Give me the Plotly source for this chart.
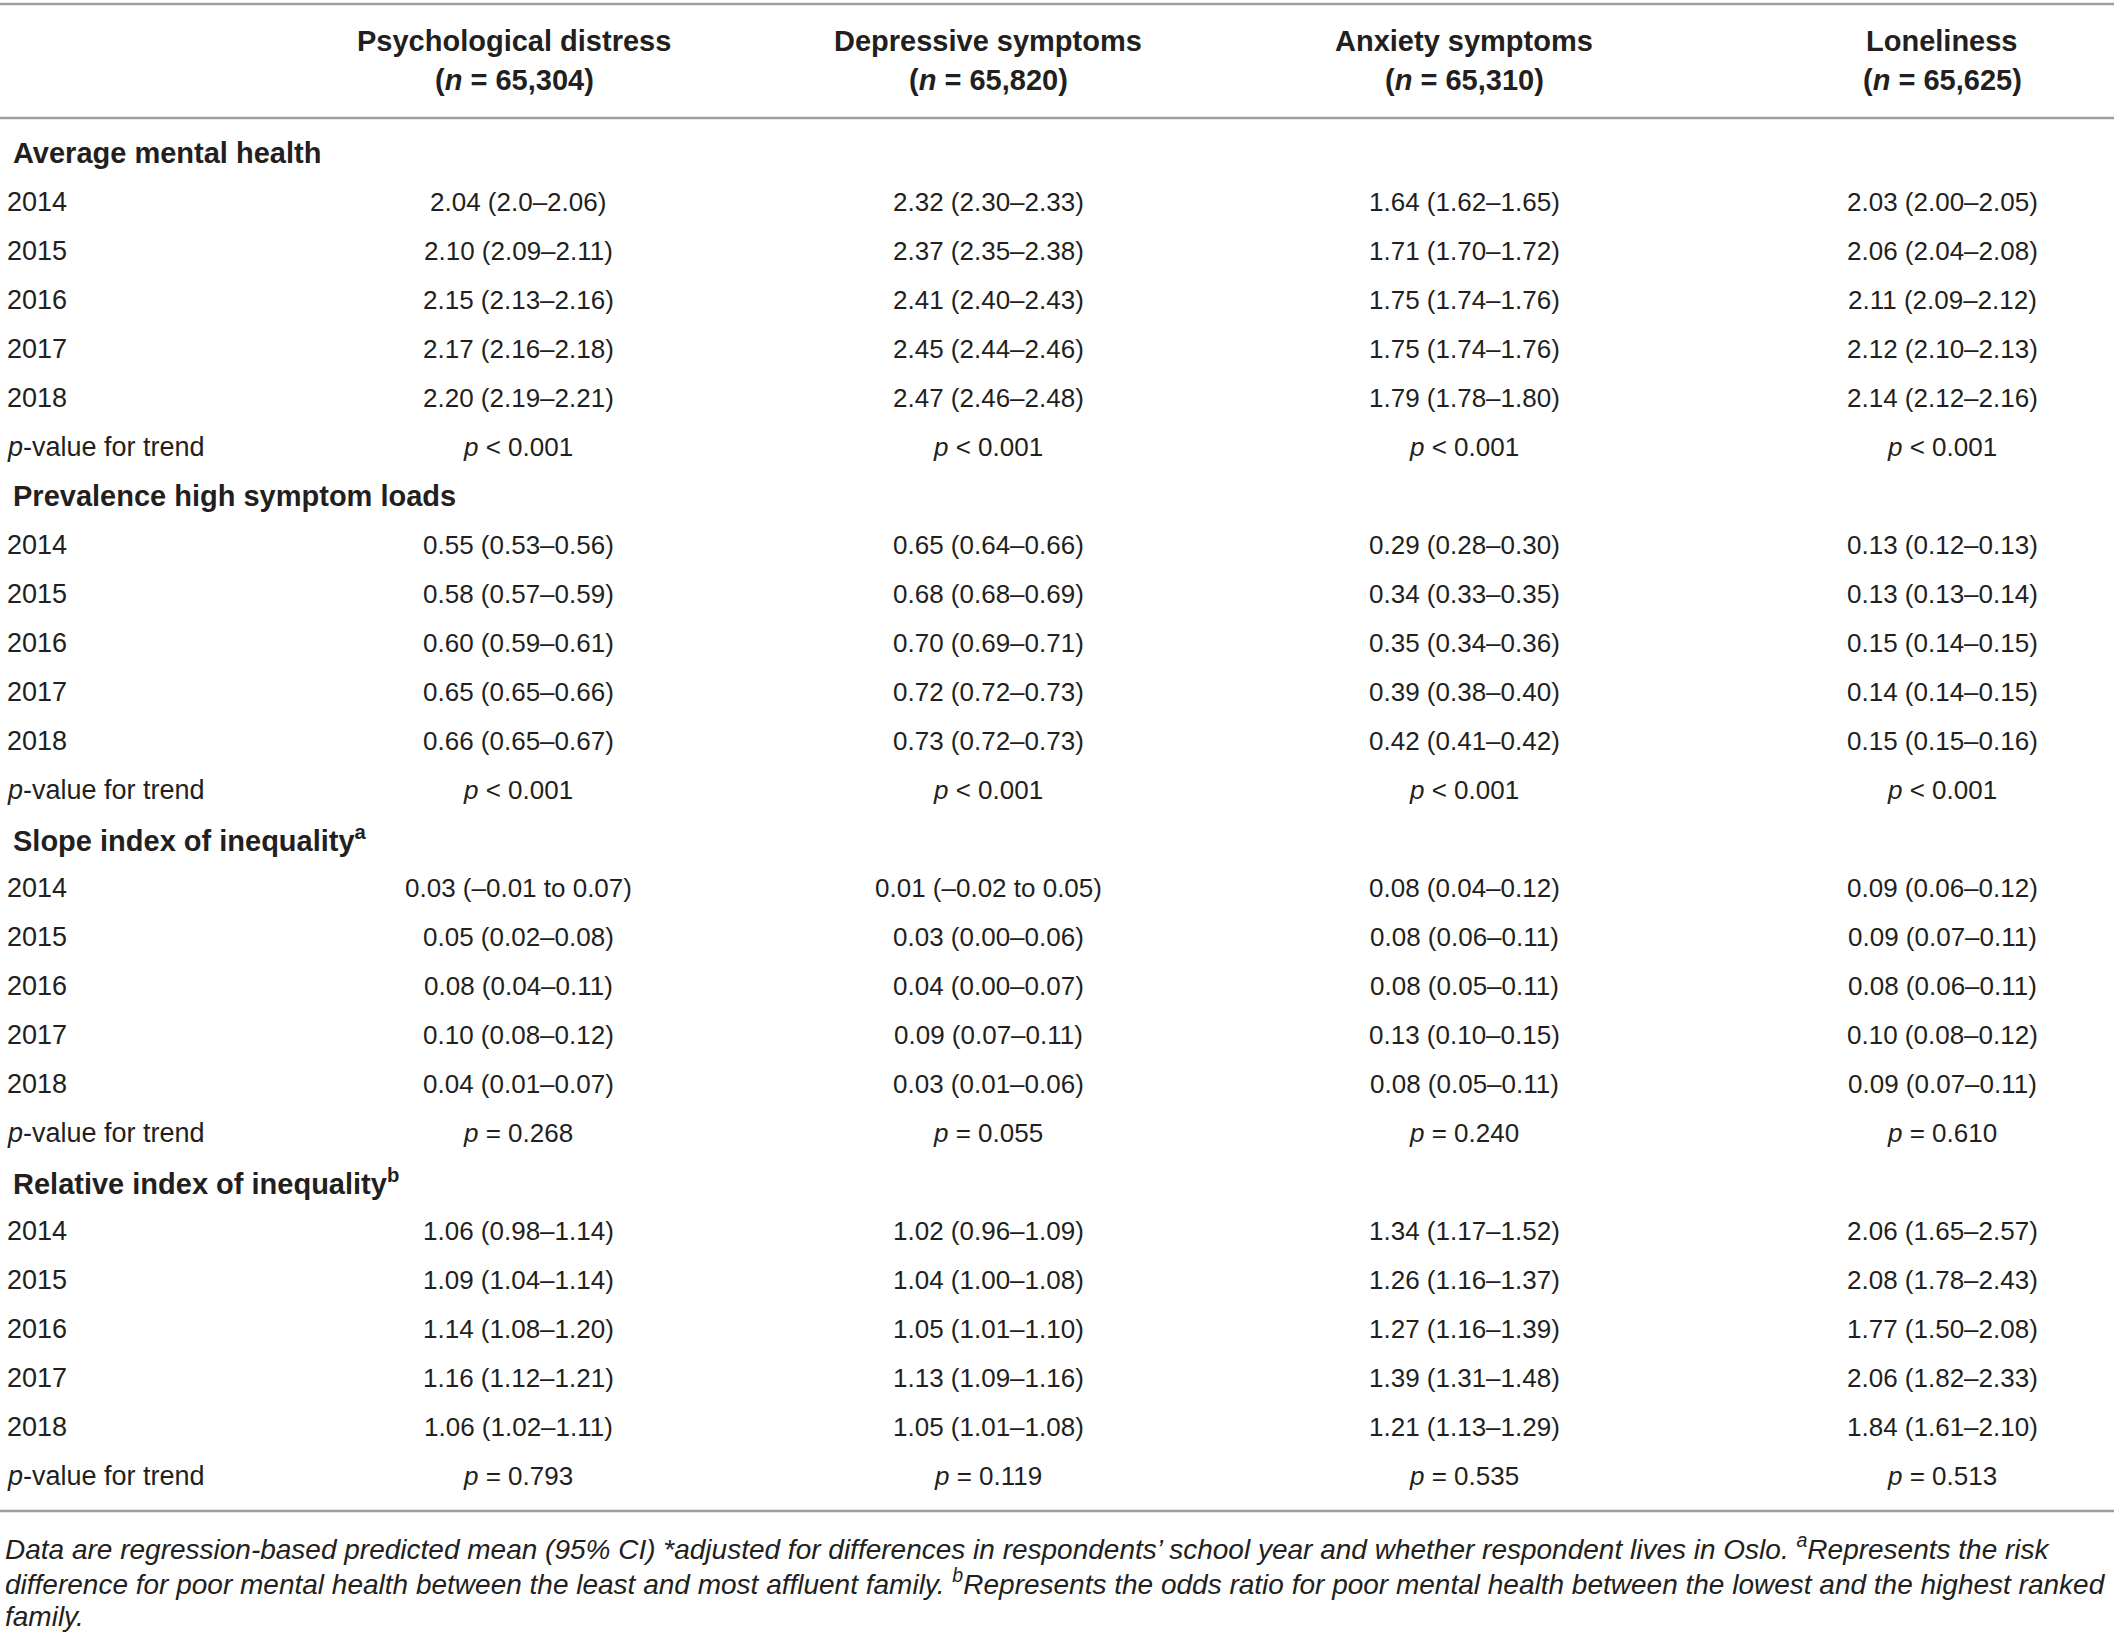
import plotly.graph_objects as go

# column headers
outcomes = ["Psychological distress", "Depressive symptoms", "Anxiety symptoms", "Loneliness"]
sample_n = ["65,304", "65,820", "65,310", "65,625"]

sections = [
    "Average mental health",
    "Prevalence high symptom loads",
    "Slope index of inequality<sup>a</sup>",
    "Relative index of inequality<sup>b</sup>",
]
years = ["2014", "2015", "2016", "2017", "2018"]

# one list per section, one row per year, one entry per outcome
avg_mental_health = [
    ["2.04 (2.0–2.06)", "2.32 (2.30–2.33)", "1.64 (1.62–1.65)", "2.03 (2.00–2.05)"],
    ["2.10 (2.09–2.11)", "2.37 (2.35–2.38)", "1.71 (1.70–1.72)", "2.06 (2.04–2.08)"],
    ["2.15 (2.13–2.16)", "2.41 (2.40–2.43)", "1.75 (1.74–1.76)", "2.11 (2.09–2.12)"],
    ["2.17 (2.16–2.18)", "2.45 (2.44–2.46)", "1.75 (1.74–1.76)", "2.12 (2.10–2.13)"],
    ["2.20 (2.19–2.21)", "2.47 (2.46–2.48)", "1.79 (1.78–1.80)", "2.14 (2.12–2.16)"],
]
prevalence_high = [
    ["0.55 (0.53–0.56)", "0.65 (0.64–0.66)", "0.29 (0.28–0.30)", "0.13 (0.12–0.13)"],
    ["0.58 (0.57–0.59)", "0.68 (0.68–0.69)", "0.34 (0.33–0.35)", "0.13 (0.13–0.14)"],
    ["0.60 (0.59–0.61)", "0.70 (0.69–0.71)", "0.35 (0.34–0.36)", "0.15 (0.14–0.15)"],
    ["0.65 (0.65–0.66)", "0.72 (0.72–0.73)", "0.39 (0.38–0.40)", "0.14 (0.14–0.15)"],
    ["0.66 (0.65–0.67)", "0.73 (0.72–0.73)", "0.42 (0.41–0.42)", "0.15 (0.15–0.16)"],
]
slope_index = [
    ["0.03 (–0.01 to 0.07)", "0.01 (–0.02 to 0.05)", "0.08 (0.04–0.12)", "0.09 (0.06–0.12)"],
    ["0.05 (0.02–0.08)", "0.03 (0.00–0.06)", "0.08 (0.06–0.11)", "0.09 (0.07–0.11)"],
    ["0.08 (0.04–0.11)", "0.04 (0.00–0.07)", "0.08 (0.05–0.11)", "0.08 (0.06–0.11)"],
    ["0.10 (0.08–0.12)", "0.09 (0.07–0.11)", "0.13 (0.10–0.15)", "0.10 (0.08–0.12)"],
    ["0.04 (0.01–0.07)", "0.03 (0.01–0.06)", "0.08 (0.05–0.11)", "0.09 (0.07–0.11)"],
]
relative_index = [
    ["1.06 (0.98–1.14)", "1.02 (0.96–1.09)", "1.34 (1.17–1.52)", "2.06 (1.65–2.57)"],
    ["1.09 (1.04–1.14)", "1.04 (1.00–1.08)", "1.26 (1.16–1.37)", "2.08 (1.78–2.43)"],
    ["1.14 (1.08–1.20)", "1.05 (1.01–1.10)", "1.27 (1.16–1.39)", "1.77 (1.50–2.08)"],
    ["1.16 (1.12–1.21)", "1.13 (1.09–1.16)", "1.39 (1.31–1.48)", "2.06 (1.82–2.33)"],
    ["1.06 (1.02–1.11)", "1.05 (1.01–1.08)", "1.21 (1.13–1.29)", "1.84 (1.61–2.10)"],
]
p_trend = [
    ["< 0.001", "< 0.001", "< 0.001", "< 0.001"],
    ["< 0.001", "< 0.001", "< 0.001", "< 0.001"],
    ["= 0.268", "= 0.055", "= 0.240", "= 0.610"],
    ["= 0.793", "= 0.119", "= 0.535", "= 0.513"],
]
section_values = [avg_mental_health, prevalence_high, slope_index, relative_index]

footnote_lines = [
    "Data are regression-based predicted mean (95% CI) *adjusted for differences in respondents’ school year and whether respondent lives in Oslo. <sup>a</sup>Represents the risk",
    "difference for poor mental health between the least and most affluent family. <sup>b</sup>Represents the odds ratio for poor mental health between the lowest and the highest ranked",
    "family.",
]

# layout (axis units = page pixels)
W, H = 2120, 1638
col_x = [518, 988, 1464, 1942]
label_x = 5
row0, row_step = 153, 49.0
FONT = "Liberation Sans"
TXT = "#231f20"
LINE = "#9e9e9e"

fig = go.Figure()
fig.add_trace(go.Scatter(x=[0, W], y=[0, H], mode="markers", marker=dict(opacity=0), hoverinfo="skip"))

anns = []


def cell(x, y, text, anchor="center", size=26, bold=False):
    anns.append(dict(x=x, y=y, xref="x", yref="y", text=text, showarrow=False,
                     xanchor=anchor, yanchor="middle",
                     font=dict(family=FONT, size=size, color=TXT, weight="bold" if bold else "normal")))


# header
for i, name in enumerate(outcomes):
    cell(col_x[i] if i else 514, 41, name, size=29, bold=True)
    cell(col_x[i] if i else 514, 80, "(<i>n</i> = " + sample_n[i] + ")", size=29, bold=True)

# body
r = 0
for s, title in enumerate(sections):
    cell(label_x + 6, row0 + r * row_step, title, anchor="left", size=29, bold=True)
    r += 1
    for k, yr in enumerate(years):
        y = row0 + r * row_step
        cell(label_x, y, yr, anchor="left", size=27)
        for i in range(len(outcomes)):
            cell(col_x[i], y, section_values[s][k][i])
        r += 1
    y = row0 + r * row_step
    cell(label_x, y, "<i>p</i>-value for trend", anchor="left", size=27)
    for i in range(len(outcomes)):
        cell(col_x[i], y, "<i>p</i> " + p_trend[s][i])
    r += 1

# footnote
for j, line in enumerate(footnote_lines):
    cell(3, 1547 + j * 34.5, "<i>" + line + "</i>", anchor="left", size=28)

shapes = []
for yl in [4, 118, 1511]:
    shapes.append(dict(type="line", xref="x", yref="y", x0=0, x1=2114, y0=yl, y1=yl,
                       line=dict(color=LINE, width=2.5)))

fig.update_layout(
    width=W, height=H,
    margin=dict(l=0, r=0, t=0, b=0),
    paper_bgcolor="white", plot_bgcolor="white",
    showlegend=False,
    xaxis=dict(range=[0, W], visible=False, fixedrange=True),
    yaxis=dict(range=[H, 0], visible=False, fixedrange=True),
    annotations=anns,
    shapes=shapes,
)

# drop the default 8px page margin so the figure sits at the window's corner
fig.write_html("out.html", config={"displayModeBar": False},
               post_script="document.body.style.margin='0px';")
